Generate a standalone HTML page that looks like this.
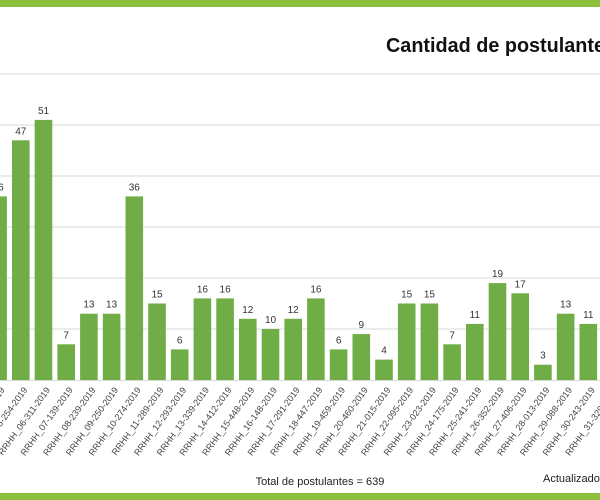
<!DOCTYPE html>
<html><head><meta charset="utf-8"><style>
html,body{margin:0;padding:0;background:#fff;width:600px;height:500px;overflow:hidden}
svg{display:block;font-family:"Liberation Sans",Calibri,sans-serif}
</style></head><body>
<svg id="s" width="600" height="500" xmlns="http://www.w3.org/2000/svg">
<rect x="0" y="0" width="600" height="7" fill="#8cc03c"/>
<rect x="0" y="493" width="600" height="7" fill="#8cc03c"/>
<text x="386" y="52" font-size="20" font-weight="bold" fill="#111" textLength="230" lengthAdjust="spacingAndGlyphs">Cantidad de postulantes</text>
<g id="g"></g>
<text x="320" y="485" font-size="11" text-anchor="middle" fill="#222">Total de postulantes = 639</text>
<text x="543" y="482" font-size="11" fill="#222">Actualizado</text>
</svg>
<script>
var g=document.getElementById('g'),h='';
[74,125,176,227,278,329].forEach(function(y){h+='<line x1="0" x2="600" y1="'+y+'" y2="'+y+'" stroke="#d9d9d9" stroke-width="1"/>';});
var data=[["04-254",36],["05-254",47],["06-311",51],["07-139",7],["08-239",13],["09-250",13],["10-274",36],["11-289",15],["12-293",6],["13-339",16],["14-412",16],["15-448",12],["16-148",10],["17-291",12],["18-447",16],["19-459",6],["20-460",9],["21-015",4],["22-095",15],["23-023",15],["24-175",7],["25-241",11],["26-352",19],["27-406",17],["28-013",3],["29-088",13],["30-243",11],["31-329",12]];
data.forEach(function(d,k){var i=k-2;var cx=43.5+22.7*i;var ht=d[1]*5.1;var top=380-ht;
h+='<rect x="'+(cx-8.8)+'" y="'+top+'" width="17.6" height="'+ht+'" fill="#70ad47"/>';
h+='<text x="'+cx+'" y="'+(top-6)+'" font-size="10" text-anchor="middle" fill="#333">'+d[1]+'</text>';
h+='<text transform="translate('+(cx+7)+',390) rotate(-54)" font-size="9" text-anchor="end" fill="#444">RRHH_'+d[0]+'-2019</text>';});
h+='<line x1="0" x2="600" y1="380.5" y2="380.5" stroke="#d9d9d9"/>';
g.innerHTML=h;
</script>
</body></html>
